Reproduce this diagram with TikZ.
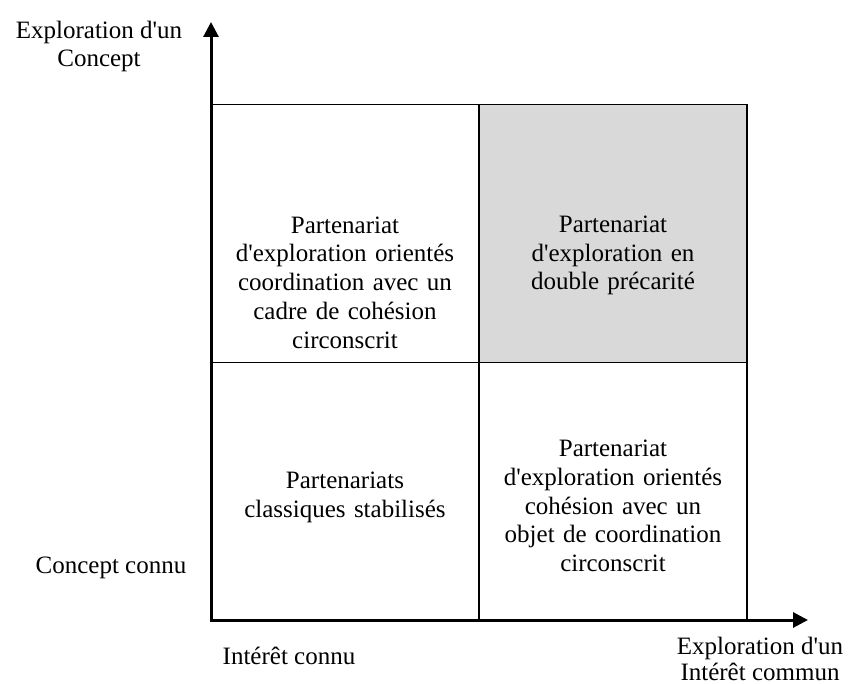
\documentclass[tikz,border=0pt]{standalone}
\usepackage{fontspec}
\setmainfont{Liberation Serif}
\usetikzlibrary{arrows.meta}

\definecolor{cellgray}{RGB}{217,217,217}

\tikzset{
  cell/.style={draw=black, line width=1.4pt, minimum width=268pt, minimum height=257.5pt, inner sep=0pt},
  celltext/.style={align=center, text width=250pt, font=\fontsize{25}{28.8}\selectfont},
  axislabel/.style={align=center, font=\fontsize{25}{28}\selectfont},
  axis/.style={line width=3pt, {Triangle[length=15pt,width=15pt]}-{Triangle[length=15pt,width=15pt]}}
}

\begin{document}
\begin{tikzpicture}[x=1pt,y=-1pt]
    \useasboundingbox (0,0) rectangle (849,684);
    % quadrants
    \node[cell] (tl) at (345,233.5) {};
    \node[cell, fill=cellgray] (tr) at (613,233.5) {};
    \node[cell] (bl) at (345,491) {};
    \node[cell] (br) at (613,491) {};
    \node[celltext] (tltext) at ([yshift=-49pt]tl.center) {Partenariat\\d\textquotesingle exploration orientés\\coordination avec un\\cadre de cohésion\\circonscrit};
    \node[celltext] (trtext) at ([yshift=-22pt]tr.center) {Partenariat\\d\textquotesingle exploration en\\double précarité};
    \node[celltext] (bltext) at ([yshift=-6pt]bl.center) {Partenariats\\classiques stabilisés};
    \node[celltext] (brtext) at ([yshift=-15pt]br.center) {Partenariat\\d\textquotesingle exploration orientés\\cohésion avec un\\objet de coordination\\circonscrit};
    % axes
    \coordinate (o) at (211,620);
    \coordinate (ytip) at (211,22);
    \coordinate (xtip) at (808,620);
    \draw[axis] (ytip) -- (o) -- (xtip);
    % axis labels
    \node[axislabel] (ytop) at (99,46) {Exploration d\textquotesingle un\\Concept};
    \node[axislabel] (ylow) at (111,567.5) {Concept connu};
    \node[axislabel] (xlow) at (289,655.5) {Intérêt connu};
    \node[axislabel, inner sep=0pt, font=\fontsize{25}{26}\selectfont] (xtop) at (760,658.5) {Exploration d\textquotesingle un\\Intérêt commun};
\end{tikzpicture}
\end{document}
